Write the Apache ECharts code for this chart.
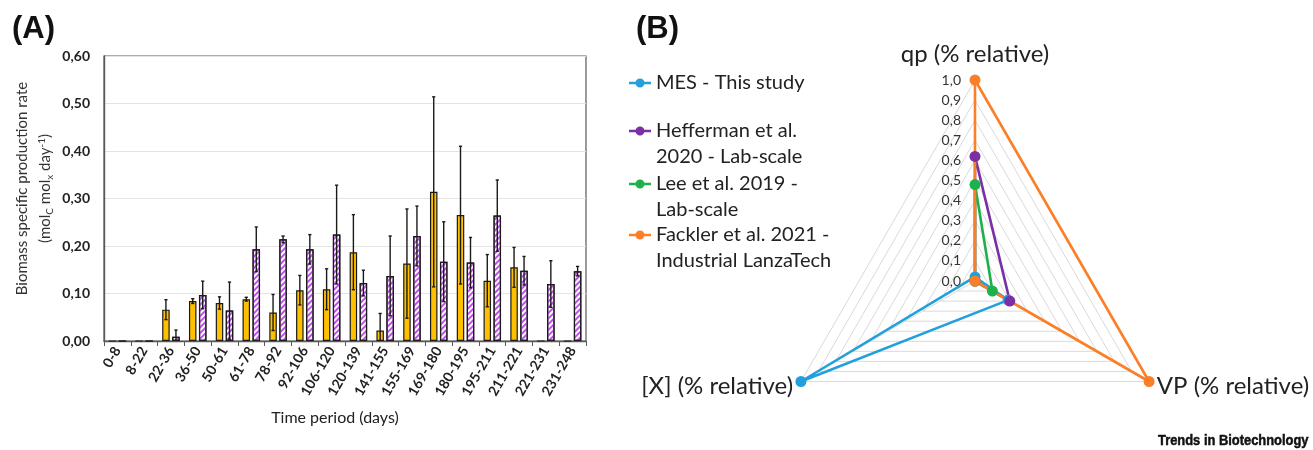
<!DOCTYPE html>
<html>
<head>
<meta charset="utf-8">
<script src="https://cdn.jsdelivr.net/npm/echarts@6/dist/echarts.min.js"></script>
<style>
  html, body { margin: 0; padding: 0; background: #ffffff; }
  #chart { width: 1313px; height: 450px; }
</style>
</head>
<body>
<div id="chart"></div>
<script>
// ---- Panel A: biomass specific production rate per time period ----
const periods = ['0-8', '8-22', '22-36', '36-50', '50-61', '61-78', '78-92', '92-106', '106-120',
  '120-139', '141-155', '155-169', '169-180', '180-195', '195-211', '211-221', '221-231', '231-248'];
const solidRates = [0, 0, 0.066, 0.084, 0.080, 0.088, 0.060, 0.107, 0.109,
  0.187, 0.022, 0.163, 0.314, 0.265, 0.127, 0.155, 0, 0];
const solidErrors = [0, 0, 0.021, 0.005, 0.013, 0.004, 0.038, 0.031, 0.043,
  0.079, 0.036, 0.115, 0.200, 0.145, 0.055, 0.042, 0, 0];
const hatchedRates = [0, 0, 0.009, 0.097, 0.064, 0.193, 0.214, 0.193, 0.224,
  0.122, 0.137, 0.221, 0.167, 0.165, 0.264, 0.148, 0.120, 0.147];
const hatchedErrors = [0, 0, 0.014, 0.029, 0.060, 0.047, 0.007, 0.031, 0.104,
  0.027, 0.084, 0.063, 0.084, 0.053, 0.075, 0.030, 0.049, 0.010];

// ---- Panel B: relative performance comparison ----
const radarAxes = ['qp (% relative)', '[X] (% relative)', 'VP (% relative)'];
const studyNames = ['MES - This study', 'Hefferman et al.\n2020 - Lab-scale',
  'Lee et al. 2019 -\nLab-scale', 'Fackler et al. 2021 -\nIndustrial LanzaTech'];
const mesStudy = [0.02, 1.0, 0.19];
const hefferman2020 = [0.62, 0, 0.20];
const lee2019 = [0.48, 0, 0.10];
const fackler2021 = [1.0, 0, 1.0];
const studyColors = ['#23a0dc', '#7a2fa5', '#1cb14b', '#fb7f28'];

const FONT = 'Lato, "Liberation Sans", sans-serif';
const AXIS_GREY = '#5a5a5a';
const BAR_WIDTH = 7.5;
const BAR_GAP_PX = 2.5;
const comma = (v, d) => v.toFixed(d).replace('.', ',');

// line with a dot, used as the legend marker
const LEGEND_ICON = 'path://M0,3.8h22v2.4h-22z M6.5,5a4.5,4.5 0 1,1 9,0a4.5,4.5 0 1,1 -9,0z';

function errorBars(values, errors, side) {
  return {
    type: 'custom',
    z: 5,
    clip: true,
    silent: true,
    data: values.map((v, i) => [i, v, errors[i]]),
    encode: { x: 0, y: 1 },
    renderItem(params, api) {
      const i = api.value(0), v = api.value(1), e = api.value(2);
      if (!e) return null;
      const low = v - e;
      const top = api.coord([i, v + e]);
      const bot = api.coord([i, Math.max(low, 0)]);
      const x = top[0] + side * (BAR_WIDTH + BAR_GAP_PX) / 2;
      const style = { stroke: '#1a1a1a', lineWidth: 1.4 };
      const kids = [
        { type: 'line', shape: { x1: x, y1: top[1], x2: x, y2: bot[1] }, style },
        { type: 'line', shape: { x1: x - 1.6, y1: top[1], x2: x + 1.6, y2: top[1] }, style }
      ];
      if (low > 0) {
        kids.push({ type: 'line', shape: { x1: x - 1.6, y1: bot[1], x2: x + 1.6, y2: bot[1] }, style });
      }
      return { type: 'group', children: kids };
    }
  };
}

const chart = echarts.init(document.getElementById('chart'), null, { renderer: 'canvas' });

// legend blocks are stacked with their first line level with the marker
const legendTops = [70, 92, 145, 196];

chart.setOption({
  animation: false,
  backgroundColor: '#ffffff',
  textStyle: { fontFamily: FONT },
  graphic: [
    { type: 'text', left: 12, top: 14, style: { text: '(A)', font: 'bold 31px "Liberation Sans", Arial, sans-serif', fill: '#111' } },
    { type: 'text', left: 636, top: 14, style: { text: '(B)', font: 'bold 31px "Liberation Sans", Arial, sans-serif', fill: '#111' } },
    { type: 'text', x: 1158, y: 433, scaleX: 0.86, style: { text: 'Trends in Biotechnology', font: 'bold 15px "Liberation Sans", Arial, sans-serif', fill: '#111', stroke: '#111', lineWidth: 0.5 } }
  ],
  grid: {
    left: 104, right: 727, top: 56, bottom: 109,
    show: true, borderColor: AXIS_GREY, borderWidth: 1.2, backgroundColor: 'transparent'
  },
  xAxis: {
    type: 'category',
    data: periods,
    name: 'Time period (days)',
    nameLocation: 'middle',
    nameGap: 69,
    nameTextStyle: { fontSize: 16, color: '#222', fontFamily: FONT, padding: [0, 20, 0, 0] },
    axisLine: { lineStyle: { color: AXIS_GREY, width: 1.4 } },
    axisTick: { show: true, length: 5, lineStyle: { color: AXIS_GREY } },
    axisLabel: { interval: 0, rotate: 60, fontSize: 14, fontWeight: 'bold', color: '#222', margin: 7, fontFamily: FONT }
  },
  yAxis: {
    type: 'value',
    min: 0, max: 0.6, interval: 0.1,
    name: 'Biomass specific production rate\n{n|(mol}{sub|C}{n| mol}{sub|x}{n| day}{sup|-1}{n|)}',
    nameLocation: 'middle',
    nameGap: 47,
    nameTextStyle: {
      fontSize: 15, color: '#333', fontFamily: FONT, lineHeight: 23,
      padding: [0, 0, 0, 20],
      rich: {
        n: { fontSize: 15, lineHeight: 23, color: '#333', fontFamily: FONT },
        sub: { fontSize: 10, lineHeight: 10, verticalAlign: 'bottom', color: '#333', fontFamily: FONT, padding: [0, 0, 2, 0] },
        sup: { fontSize: 10, lineHeight: 10, verticalAlign: 'top', color: '#333', fontFamily: FONT, padding: [3, 0, 0, 0] }
      }
    },
    axisLine: { show: true, lineStyle: { color: AXIS_GREY, width: 1.4 } },
    axisTick: { show: false },
    splitLine: { lineStyle: { color: '#e4e4e4', width: 1 } },
    axisLabel: { fontSize: 14, fontWeight: 'bold', color: '#222', margin: 14, fontFamily: FONT, formatter: v => comma(v, 2) }
  },
  series: [
    {
      type: 'bar',
      data: solidRates,
      barWidth: BAR_WIDTH,
      barGap: (BAR_GAP_PX / BAR_WIDTH * 100) + '%',
      itemStyle: { color: '#ffc000', borderColor: '#1a1a1a', borderWidth: 1.2 }
    },
    {
      type: 'bar',
      data: hatchedRates,
      barWidth: BAR_WIDTH,
      itemStyle: {
        color: '#ffffff', borderColor: '#1a1a1a', borderWidth: 1.2,
        decal: {
          symbol: 'rect', symbolSize: 1,
          dashArrayX: [1, 0], dashArrayY: [1.6, 1.4],
          rotation: -Math.PI / 4,
          color: '#c050ec'
        }
      }
    },
    errorBars(solidRates, solidErrors, -1),
    errorBars(hatchedRates, hatchedErrors, 1),
    {
      type: 'radar',
      radarIndex: 0,
      symbol: 'circle',
      symbolSize: 11,
      lineStyle: { width: 2.6 },
      data: [mesStudy, hefferman2020, lee2019, fackler2021].map((vals, k) => ({
        name: studyNames[k],
        value: vals,
        itemStyle: { color: studyColors[k] },
        lineStyle: { color: studyColors[k], width: 2.6 }
      }))
    }
  ],
  radar: {
    center: [975, 281],
    radius: 201,
    startAngle: 90,
    shape: 'polygon',
    splitNumber: 10,
    axisNameGap: 9,
    axisName: { color: '#222', fontSize: 24, fontFamily: FONT },
    indicator: radarAxes.map((name, i) => Object.assign(
      { name, min: 0, max: 1 },
      i === 0 ? { axisLabel: { show: true }, nameGap: 14 } : {}
    )),
    axisLine: { show: true, lineStyle: { color: '#dadada', width: 1 } },
    axisTick: { show: false },
    splitLine: { lineStyle: { color: '#dadada', width: 1 } },
    splitArea: { show: false },
    axisLabel: { show: false, color: '#333', fontSize: 14, margin: 14, fontFamily: FONT, formatter: v => comma(v, 1) }
  },
  legend: studyNames.map((name, i) => ({
    data: [{ name, icon: LEGEND_ICON }],
    orient: 'vertical',
    left: 629,
    top: legendTops[i],
    padding: 0,
    itemWidth: 22,
    itemHeight: 10,
    selectedMode: false,
    // a leading blank line keeps the marker beside the first line of two-line names
    formatter: n => (n.indexOf('\n') >= 0 ? ' \n' + n : n),
    textStyle: { fontSize: 20, color: '#222', fontFamily: FONT, lineHeight: 26 }
  }))
});
</script>
</body>
</html>
